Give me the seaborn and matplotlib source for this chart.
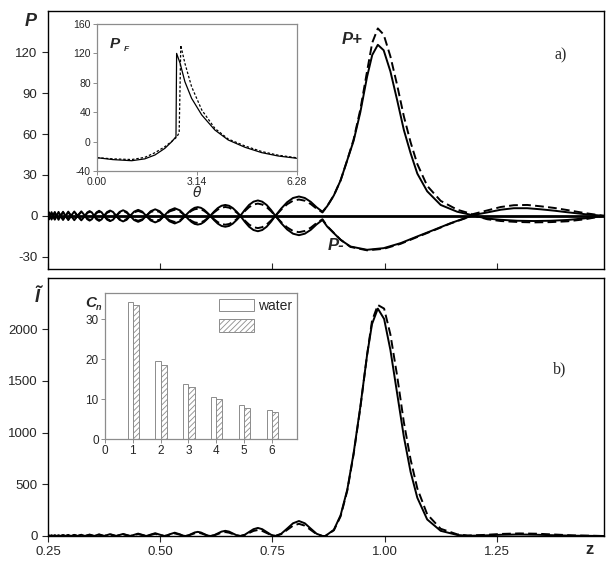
import matplotlib
matplotlib.use("Agg")
import matplotlib.pyplot as plt
import seaborn as sns
from matplotlib.patches import Patch

sns.set_style("ticks")
plt.rcParams['font.family'] = ['Liberation Sans', 'DejaVu Sans']
plt.rcParams['axes.unicode_minus'] = False
plt.rcParams['hatch.color'] = '#8a8a8a'
plt.rcParams['hatch.linewidth'] = 0.6

# ---------------- data: panel a) P+ / P- ----------------
# oscillating region (shared z); P+ values, P- mirrors P+ there
Z_OSC = [0.2500, 0.2523, 0.2545, 0.2579, 0.2612, 0.2651, 0.2690, 0.2735,
         0.2779, 0.2835, 0.2891, 0.2952, 0.3013, 0.3086, 0.3158, 0.3242,
         0.3326, 0.3376, 0.3427, 0.3477, 0.3527, 0.3583, 0.3639, 0.3694,
         0.3750, 0.3817, 0.3884, 0.3951, 0.4018, 0.4096, 0.4174, 0.4252,
         0.4330, 0.4420, 0.4509, 0.4599, 0.4688, 0.4788, 0.4889, 0.4989,
         0.5089, 0.5148, 0.5206, 0.5324, 0.5441, 0.5499,
         0.5558, 0.5628, 0.5698, 0.5767, 0.5837, 0.5907, 0.5977, 0.6046,
         0.6116, 0.6200, 0.6283, 0.6367, 0.6451, 0.6535, 0.6618, 0.6702,
         0.6786, 0.6884, 0.6981, 0.7079, 0.7177, 0.7274, 0.7372, 0.7470,
         0.7567, 0.7698, 0.7829, 0.7960, 0.8092, 0.8223, 0.8354, 0.8485,
         0.8616]
PP_OSC_SOLID = [0, 2.6, 0, -2.7, 0, 2.8, 0, -2.9,
                0, 3.0, 0, -3.1, 0, 3.2, 0, -3.3,
                0, 2.5, 3.5, 2.5, 0, -2.6, -3.7, -2.6,
                0, 2.8, 3.9, 2.8, 0, -2.9, -4.1, -2.9,
                0, 3.1, 4.4, 3.1, 0, -3.4, -4.8, -3.4,
                0, 2.1, 4.0, 5.6, 4.0, 2.1,
                0, -2.4, -4.5, -5.9, -6.4, -5.9, -4.5, -2.4,
                0, 3.1, 5.7, 7.4, 8.0, 7.4, 5.7, 3.1,
                0, -4.3, -8.0, -10.4, -11.3, -10.4, -8.0, -4.3,
                0, 5.4, 10.0, 13.1, 14.2, 13.1, 10.3, 6.3,
                3.0]
PP_OSC_DASH = [0, 2.2, 0, -2.3, 0, 2.4, 0, -2.5,
               0, 2.5, 0, -2.6, 0, 2.7, 0, -2.8,
               0, 2.1, 2.9, 2.1, 0, -2.1, -3.0, -2.1,
               0, 2.3, 3.2, 2.3, 0, -2.4, -3.4, -2.4,
               0, 2.6, 3.6, 2.6, 0, -2.8, -3.9, -2.8,
               0, 1.7, 3.2, 4.5, 3.2, 1.7,
               0, -2.0, -3.7, -4.8, -5.2, -4.8, -3.7, -2.0,
               0, 2.5, 4.6, 6.0, 6.5, 6.0, 4.6, 2.5,
               0, -3.4, -6.4, -8.3, -9.0, -8.3, -6.4, -3.4,
               0, 4.6, 8.5, 11.1, 12.0, 11.1, 8.7, 5.3,
               2.5]

ZP_MAIN = [0.872, 0.887, 0.902, 0.916, 0.931, 0.946, 0.961, 0.9725, 0.985, 0.998,
           1.013, 1.028, 1.043, 1.058, 1.073, 1.095, 1.125, 1.162, 1.196, 1.229,
           1.259, 1.288, 1.318, 1.348, 1.378, 1.408, 1.447, 1.489]
PP_MAIN_SOLID = [7, 15, 26, 40, 55, 76, 102, 118, 125.5, 121.5,
                 106, 85, 63, 46, 31, 18, 8, 3, 0.5, 2.5,
                 4.5, 5.6, 5.6, 4.8, 3.8, 2.6, 1.2, 0]
PP_MAIN_DASH = [7, 15, 26, 40, 56, 78, 106, 127, 137.5, 133,
                117, 96, 73, 54, 38, 22, 11, 4.5, 1.2, 4,
                6.5, 7.8, 8, 7, 5.8, 4.2, 2, 0]

ZM_MAIN = [0.872, 0.887, 0.902, 0.924, 0.961, 0.998, 1.036, 1.073, 1.110, 1.147,
           1.185, 1.196, 1.229, 1.259, 1.296, 1.333, 1.370, 1.408, 1.447, 1.489]
PM_MAIN_SOLID = [-7.8, -12.7, -17.6, -22.5, -24.9, -23.7, -20, -15.1, -10.3, -5.4,
                 -1, 0.3, -2.0, -2.9, -3.6, -3.8, -3.6, -3.0, -1.8, 0]
PM_MAIN_DASH = [-7.5, -12.5, -17.5, -22.8, -25.3, -24.2, -20.5, -15.5, -10.6, -5.6,
                -1.2, 0.5, -2.5, -3.8, -4.5, -4.8, -4.6, -4.0, -2.5, 0]

# ---------------- data: panel b) intensity ----------------
I_OSC_SOLID = [0, 5, 0, 6, 0, 7, 0, 8,
               0, 9, 0, 10, 0, 11, 0, 12,
               0, 7, 14, 7, 0, 8, 16, 8,
               0, 9, 18, 9, 0, 10, 20, 10,
               0, 11.5, 23, 11.5, 0, 13.5, 27, 13.5,
               0, 5, 16, 32, 16, 5,
               0, 6, 20, 34, 40, 34, 20, 6,
               0, 7.5, 25, 42.5, 50, 42.5, 25, 7.5,
               0, 12, 39, 66, 78, 66, 39, 12,
               0, 22, 72, 123, 145, 123, 72, 22,
               0]
I_OSC_DASH = [0, 4, 0, 5, 0, 5, 0, 6,
              0, 7, 0, 8, 0, 9, 0, 10,
              0, 5.5, 11, 5.5, 0, 6, 12, 6,
              0, 7, 14, 7, 0, 8, 16, 8,
              0, 9, 18, 9, 0, 10.5, 21, 10.5,
              0, 4, 12.5, 25, 12.5, 4,
              0, 5, 15.5, 26, 31, 26, 15.5, 5,
              0, 6, 19, 32, 38, 32, 19, 6,
              0, 9, 29, 49, 58, 49, 29, 9,
              0, 18, 59, 100, 118, 100, 59, 18,
              0]
ZI_MAIN = [0.868, 0.887, 0.902, 0.917, 0.931, 0.946, 0.961, 0.972, 0.985, 0.999,
           1.013, 1.028, 1.043, 1.058, 1.073, 1.095, 1.125, 1.162, 1.185, 1.22,
           1.26, 1.30, 1.34, 1.38, 1.42, 1.489]
I_MAIN_SOLID = [0, 60, 200, 450, 800, 1250, 1750, 2050, 2200, 2100,
                1800, 1380, 960, 620, 370, 160, 50, 10, 2, 5,
                12, 15, 12, 7, 3, 0]
I_MAIN_DASH = [0, 55, 190, 440, 790, 1240, 1750, 2080, 2235, 2200,
               1950, 1550, 1100, 740, 460, 210, 70, 16, 5, 10,
               20, 25, 22, 14, 6, 0]

# ---------------- inset a): P_F vs theta ----------------
TH_SOLID = [0.0, 0.5, 1.09, 1.5, 1.82, 2.13, 2.35, 2.48, 2.50, 2.61, 2.76, 2.97, 3.29,
            3.70, 4.12, 4.65, 5.17, 5.69, 6.27]
PF_SOLID = [-21.9, -24.5, -26, -23.5, -18.2, -9.2, 0, 6.7, 120, 106.5, 81.5, 58.9, 36.2,
            15.8, 2.2, -7.8, -15, -19.6, -22.7]
TH_DASH = [0.0, 0.5, 1.09, 1.5, 1.82, 2.13, 2.35, 2.50, 2.58, 2.61, 2.63, 2.76, 2.97,
           3.29, 3.70, 4.12, 4.65, 5.17, 5.69, 6.27]
PF_DASH = [-21.9, -23.5, -24.4, -21.5, -15.1, -7.0, 0.5, 6.0, 12.0, 80, 131, 106.5, 74.7,
           43, 18, 3.5, -6, -13.5, -18.5, -22]

# ---------------- inset b): C_n bars ----------------
N_MODES = [1, 2, 3, 4, 5, 6]
CN_WATER = [34.3, 19.5, 13.7, 10.5, 8.6, 7.3]
CN_OTHER = [33.5, 18.6, 13.0, 10.0, 7.8, 6.7]

# ---------------- figure ----------------
W, H = 615, 563
fig = plt.figure(figsize=(W / 100, H / 100), dpi=100)

def fx(px):
    return px / W

def fy(py):
    return 1 - py / H

ax1 = fig.add_axes([fx(48), fy(269), fx(604) - fx(48), fy(11) - fy(269)])
ax2 = fig.add_axes([fx(48), fy(536), fx(604) - fx(48), fy(278) - fy(536)])


def draw(ax, x, y, dashed=False, lw=1.4, dash=(4.5, 2.2), color='black'):
    sns.lineplot(x=list(x), y=list(y), ax=ax, color=color, lw=lw,
                 estimator=None, sort=False, legend=False)
    ln = ax.lines[-1]
    if dashed:
        ln.set_dashes(dash)
    return ln


# panel a
ax1.axhline(0, color='black', lw=2.0, zorder=1)
zplus = Z_OSC + ZP_MAIN
zminus = Z_OSC + ZM_MAIN
draw(ax1, zplus, PP_OSC_SOLID + PP_MAIN_SOLID)
draw(ax1, zplus, PP_OSC_DASH + PP_MAIN_DASH, dashed=True)
draw(ax1, zminus, [-v for v in PP_OSC_SOLID] + PM_MAIN_SOLID)
draw(ax1, zminus, [-v for v in PP_OSC_DASH] + PM_MAIN_DASH, dashed=True)

ax1.set_xlim(0.25, 1.489)
ax1.set_ylim(-39, 150.3)
ax1.set_yticks([-30, 0, 30, 60, 90, 120])
ax1.set_xticks([0.25, 0.50, 0.75, 1.00, 1.25])
ax1.tick_params(axis='x', direction='in', length=4, labelbottom=False, width=0.8)
ax1.tick_params(axis='y', direction='out', length=4, labelsize=9.5, width=0.8)
ax1.set_xlabel('')
ax1.set_ylabel('')

# panel b
zi = Z_OSC + ZI_MAIN
draw(ax2, zi, I_OSC_SOLID + I_MAIN_SOLID)
draw(ax2, zi, I_OSC_DASH + I_MAIN_DASH, dashed=True)
ax2.set_xlim(0.25, 1.489)
ax2.set_ylim(0, 2496)
ax2.set_yticks([0, 500, 1000, 1500, 2000])
ax2.set_xticks([0.25, 0.50, 0.75, 1.00, 1.25])
ax2.set_xticklabels(['0.25', '0.50', '0.75', '1.00', '1.25'])
ax2.tick_params(axis='both', direction='out', length=4, labelsize=9.5, width=0.8)
ax2.set_xlabel('')
ax2.set_ylabel('')

for ax in (ax1, ax2):
    for s in ax.spines.values():
        s.set_visible(True)
        s.set_linewidth(1.0)
        s.set_color('black')

# inset a
GRAY = '#8c8c8c'
ia = fig.add_axes([fx(97), fy(171), fx(297) - fx(97), fy(24) - fy(171)])
draw(ia, TH_SOLID, PF_SOLID, lw=0.9)
draw(ia, TH_DASH, PF_DASH, dashed=True, lw=0.9, dash=(2.0, 1.5))
ia.set_xlim(0, 6.28)
ia.set_ylim(-40, 160)
ia.set_xticks([0, 3.14, 6.28])
ia.set_xticklabels(['0.00', '3.14', '6.28'])
ia.set_yticks([-40, 0, 40, 80, 120, 160])
ia.tick_params(axis='both', direction='out', length=3, labelsize=7.5, width=0.7,
               color=GRAY, pad=1.5)
ia.set_xlabel('')
ia.set_ylabel('')
for s in ia.spines.values():
    s.set_visible(True)
    s.set_color(GRAY)
    s.set_linewidth(0.9)
ia.text(0.065, 0.865, 'P', transform=ia.transAxes, fontsize=11, fontweight='bold',
        fontstyle='italic', ha='left', va='center')
ia.text(0.135, 0.825, 'F', transform=ia.transAxes, fontsize=6, fontweight='bold',
        fontstyle='italic', ha='left', va='center')
fig.text(fx(197), fy(193), 'θ', fontsize=10, fontstyle='italic',
         ha='center', va='center', family=['DejaVu Sans'])

# inset b
ib = fig.add_axes([fx(105), fy(439), fx(297) - fx(105), fy(293) - fy(439)])
nx = list(N_MODES)
ib.bar([n - 0.095 for n in nx], CN_WATER, width=0.19, facecolor='white',
       edgecolor=GRAY, linewidth=0.7)
ib.bar([n + 0.11 for n in nx], CN_OTHER, width=0.22, facecolor='white',
       edgecolor=GRAY, linewidth=0.7, hatch='//////')
ib.set_xlim(0, 6.9)
ib.set_ylim(0, 36.5)
ib.set_xticks([0, 1, 2, 3, 4, 5, 6])
ib.set_yticks([0, 10, 20, 30])
ib.tick_params(axis='both', direction='out', length=3, labelsize=8.5, width=0.7,
               color=GRAY, pad=1.5)
for s in ib.spines.values():
    s.set_visible(True)
    s.set_color(GRAY)
    s.set_linewidth(0.9)
handles = [Patch(facecolor='white', edgecolor=GRAY, linewidth=0.7, label='water'),
           Patch(facecolor='white', edgecolor=GRAY, linewidth=0.7, hatch='//////', label=' ')]
ib.legend(handles=handles, loc='upper left', bbox_to_anchor=(0.594, 0.96), frameon=False,
          fontsize=10, borderpad=0, handlelength=2.5, handleheight=1.0,
          labelspacing=0.45, handletextpad=0.3, borderaxespad=0)
fig.text(fx(91), fy(303), 'C', fontsize=11, fontweight='bold', fontstyle='italic',
         ha='center', va='center')
fig.text(fx(99), fy(308), 'n', fontsize=6.5, fontweight='bold', fontstyle='italic',
         ha='center', va='center')

# labels
fig.text(fx(31), fy(21), 'P', fontsize=13, fontweight='bold', fontstyle='italic',
         ha='center', va='center')
fig.text(fx(37), fy(297), 'Ĩ', fontsize=13, fontweight='bold', fontstyle='italic',
         ha='center', va='center')
fig.text(fx(590), fy(549), 'z', fontsize=12, fontweight='bold', ha='center', va='center')
fig.text(fx(352), fy(40), 'P+', fontsize=12, fontweight='bold', fontstyle='italic',
         ha='center', va='center')
fig.text(fx(336), fy(246), 'P-', fontsize=12, fontweight='bold', fontstyle='italic',
         ha='center', va='center')
fig.text(fx(561), fy(55), 'a)', fontsize=11.5, family=['Liberation Serif'],
         ha='center', va='center')
fig.text(fx(560), fy(369), 'b)', fontsize=11.5, family=['Liberation Serif'],
         ha='center', va='center')

fig.savefig('out.png', dpi=100)
